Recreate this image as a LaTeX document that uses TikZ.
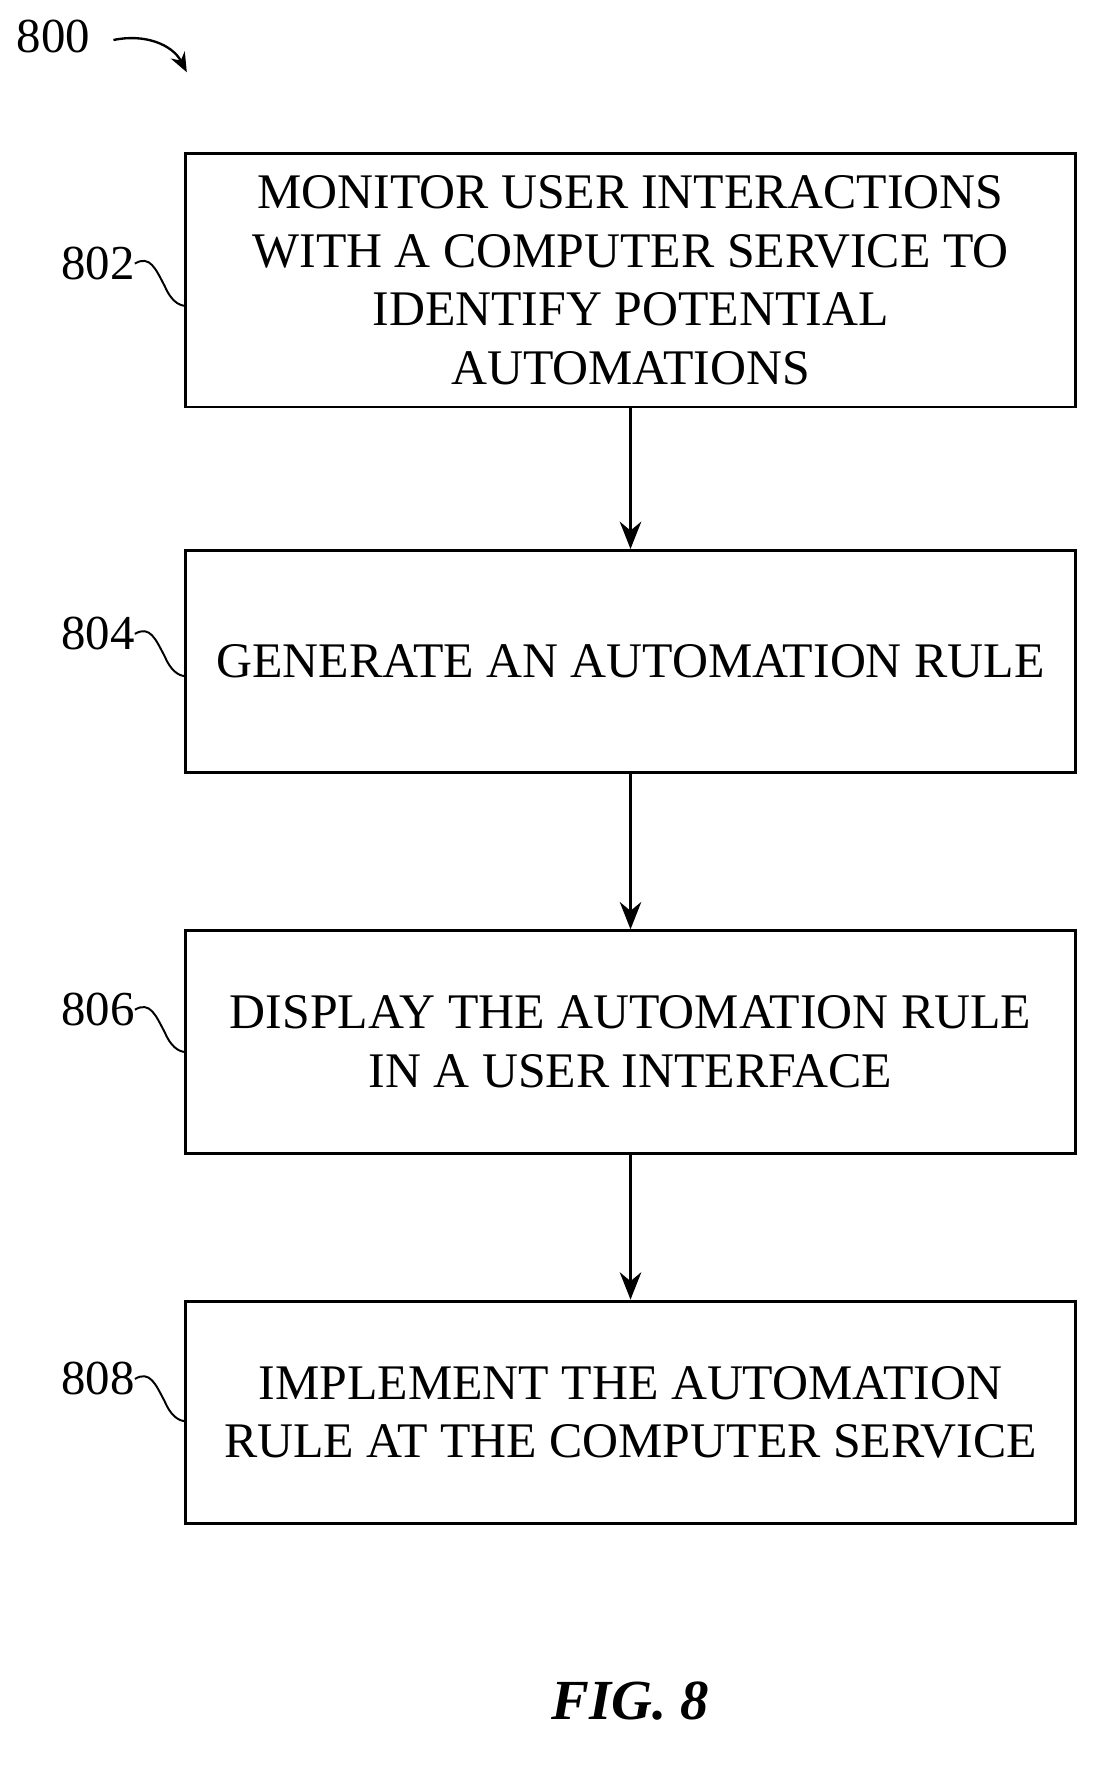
\documentclass[tikz,border=0pt]{standalone}
\usepackage{fontspec}
\setmainfont{Liberation Serif}
\usetikzlibrary{arrows.meta}
\begin{document}
\begin{tikzpicture}[x=0.02cm,y=-0.02cm,
  box/.style={draw,line width=1.5pt,minimum width=16cm,align=center,font=\fontsize{25.5}{30}\selectfont,inner sep=0pt},
  lab/.style={font=\fontsize{25}{28}\selectfont,inner sep=0pt},
  arr/.style={line width=1.5pt,-{Stealth[length=14pt,width=11pt]}},
  sq/.style={line width=1pt}]
\useasboundingbox (0,0) rectangle (1000,1589);
\node[box,minimum height=4.56cm] (b1) at (567,252) {MONITOR USER INTERACTIONS\\WITH A COMPUTER SERVICE TO\\IDENTIFY POTENTIAL\\AUTOMATIONS};
\node[box,minimum height=4cm] (b2) at (567,595) {GENERATE AN AUTOMATION RULE};
\node[box,minimum height=4cm] (b3) at (567,937) {DISPLAY THE AUTOMATION RULE\\IN A USER INTERFACE};
\node[box,minimum height=4cm] (b4) at (567,1270) {IMPLEMENT THE AUTOMATION\\RULE AT THE COMPUTER SERVICE};
\draw[arr] (b1) -- (b2);
\draw[arr] (b2) -- (b3);
\draw[arr] (b3) -- (b4);
\node[lab] (l800) at (48,33) {800};
\coordinate (s800) at (102,36);
\coordinate (e800) at (168,65);
\draw[line width=1.2pt,-{Stealth[length=10pt,width=8pt]}] (s800) .. controls (130,30) and (155,40) .. (e800);
\foreach \n/\y in {802/237,804/570,806/908,808/1240}{
  \node[lab] (l\n) at (88,\y) {\n};
  \draw[sq] (l\n.east) .. controls (135,\y-8) and (140,\y+5) .. (148,\y+20) .. controls (153,\y+32) and (160,\y+38) .. (167,\y+38);
}
\node[font=\bfseries\itshape\fontsize{29}{34}\selectfont] (fig) at (567,1530) {FIG. 8};
\end{tikzpicture}
\end{document}
